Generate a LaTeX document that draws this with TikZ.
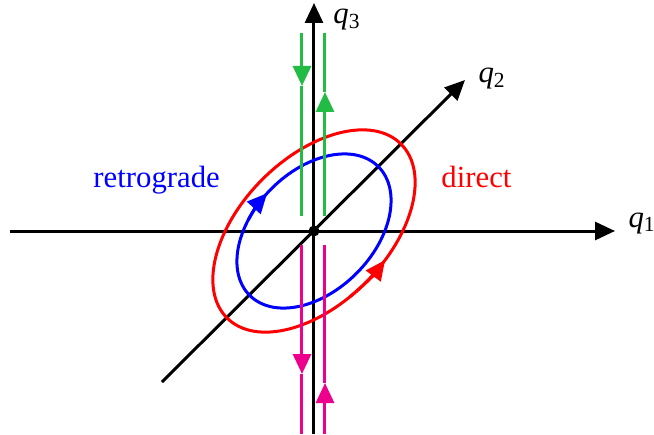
\documentclass[tikz,border=0pt]{standalone}
\usepackage{fontspec}
\setmainfont{Liberation Serif}
\usepackage{tikz}
\usetikzlibrary{arrows.meta}
\usepackage{xcolor}
\definecolor{orbitG}{RGB}{34, 187, 68}
\definecolor{orbitM}{RGB}{236, 0, 140}
\newcommand{\qlab}[1]{\textit{q}\textsubscript{#1}}

\begin{document}
\begin{tikzpicture}[x=0.4pt, y=0.4pt, line width=1.2pt,
    >={Triangle[length=8pt, width=7.2pt]},
    lab/.style={anchor=base west, inner sep=0pt, font=\fontsize{12.3}{15}\selectfont}]
  \useasboundingbox (-314,-203) rectangle (340,231);
  % axes
  \draw[->] (-304,0) -- (301,0);
  \draw[->] (0,-203) -- (0,228);
  \draw[->] (-152,-151) -- (151,151);
  \fill (0,0) circle (5.5);
  \node[lab] (q1) at (313,4) {\qlab{1}};
  \node[lab] (q3) at (18,207) {\qlab{3}};
  \node[lab] (q2) at (163,148) {\qlab{2}};
  % orbits
  \draw[red, rotate=45] (0,0) ellipse [x radius=123, y radius=73];
  \draw[red, ->, rotate=45] (260:123 and 73)
    arc [start angle=260, end angle=284, x radius=123, y radius=73];
  \draw[blue, rotate=45] (0,0) ellipse [x radius=91, y radius=60];
  \draw[blue, ->, rotate=45] (115:91 and 60)
    arc [start angle=115, end angle=94, x radius=91, y radius=60];
  % polar orbits
  \draw[orbitG, ->] (-12,198) -- (-12,145);
  \draw[orbitG] (-12,145) -- (-12,15);
  \draw[orbitG, ->] (11,15) -- (11,139);
  \draw[orbitG] (11,139) -- (11,198);
  \draw[orbitM, ->] (-12,-14) -- (-12,-143);
  \draw[orbitM] (-12,-143) -- (-12,-203);
  \draw[orbitM, ->] (11,-203) -- (11,-152);
  \draw[orbitM] (11,-152) -- (11,-14);
  \node[lab, blue] (retro) at (-222,43) {retrograde};
  \node[lab, red] (dir) at (126,44) {direct};
\end{tikzpicture}
\end{document}
